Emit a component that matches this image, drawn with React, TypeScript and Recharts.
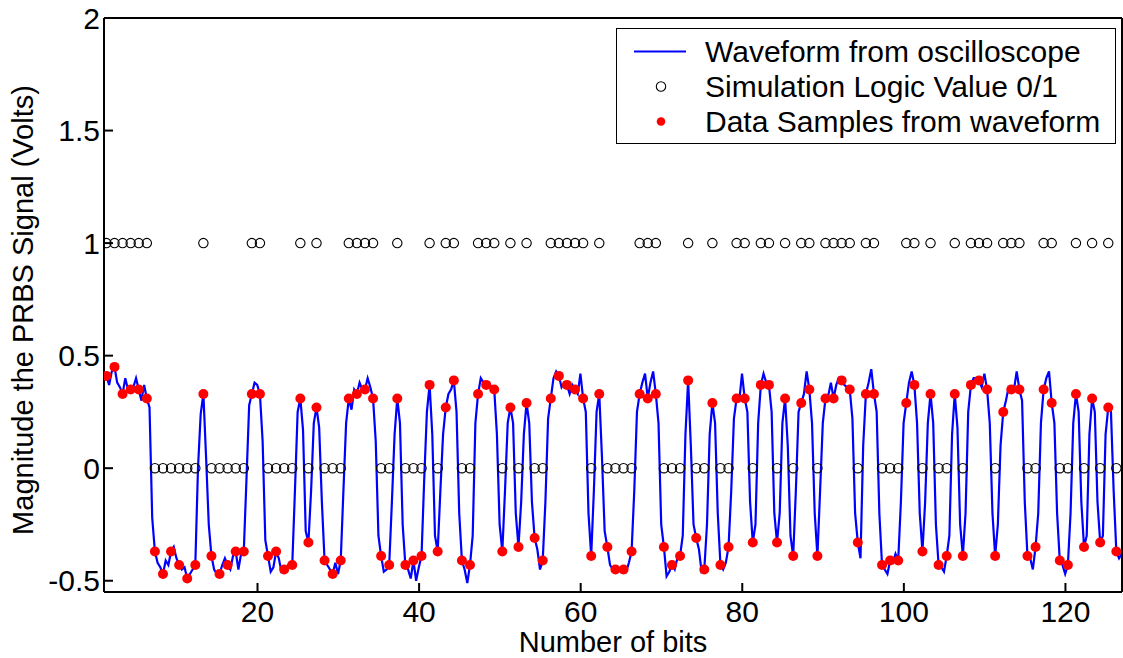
import { ComposedChart, Line, Scatter, XAxis, YAxis, Legend } from "recharts";

// logic level of each PRBS bit (bit 1 .. 126)
const logicBits = [
  1, 1, 1, 1, 1, 1, 0, 0, 0, 0, 0, 0, 1, 0, 0, 0, 0, 0, 1, 1,
  0, 0, 0, 0, 1, 0, 1, 0, 0, 0, 1, 1, 1, 1, 0, 0, 1, 0, 0, 0,
  1, 0, 1, 1, 0, 0, 1, 1, 1, 0, 1, 0, 1, 0, 0, 1, 1, 1, 1, 1,
  0, 1, 0, 0, 0, 0, 1, 1, 1, 0, 0, 0, 1, 0, 0, 1, 0, 0, 1, 1,
  0, 1, 1, 0, 1, 0, 1, 1, 0, 1, 1, 1, 1, 0, 1, 1, 0, 0, 0, 1,
  1, 0, 1, 0, 0, 1, 0, 1, 1, 1, 0, 1, 1, 1, 0, 0, 1, 1, 0, 0,
  1, 0, 1, 0, 1, 0,
];

// scope value taken at the sampling instant of each bit (red dots)
const sampleVolts = [
  0.41, 0.45, 0.33, 0.35, 0.35, 0.31, -0.37, -0.47, -0.37, -0.43,
  -0.49, -0.43, 0.33, -0.39, -0.47, -0.43, -0.37, -0.37, 0.33, 0.33,
  -0.39, -0.37, -0.45, -0.43, 0.31, -0.33, 0.27, -0.41, -0.47, -0.41,
  0.31, 0.33, 0.35, 0.31, -0.39, -0.43, 0.31, -0.43, -0.41, -0.39,
  0.37, -0.37, 0.27, 0.39, -0.41, -0.43, 0.33, 0.37, 0.35, -0.37,
  0.27, -0.35, 0.29, -0.31, -0.41, 0.31, 0.41, 0.37, 0.35, 0.31,
  -0.39, 0.33, -0.35, -0.45, -0.45, -0.37, 0.33, 0.31, 0.33, -0.35,
  -0.43, -0.39, 0.39, -0.31, -0.45, 0.29, -0.43, -0.35, 0.31, 0.31,
  -0.33, 0.37, 0.37, -0.33, 0.31, -0.39, 0.29, 0.35, -0.39, 0.31,
  0.31, 0.39, 0.35, -0.33, 0.33, 0.33, -0.43, -0.41, -0.41, 0.29,
  0.37, -0.37, 0.33, -0.43, -0.39, 0.33, -0.39, 0.37, 0.39, 0.35,
  -0.39, 0.25, 0.35, 0.35, -0.39, -0.35, 0.35, 0.29, -0.41, -0.43,
  0.33, -0.35, 0.31, -0.33, 0.27, -0.37,
];

// scope trace one third of a bit after each sample
const traceMidVolts = [
  0.37, 0.38, 0.4, 0.36, 0.3, 0.27, -0.42, -0.41, -0.35, -0.45,
  -0.47, 0.0, 0.05, -0.45, -0.43, -0.45, -0.45, -0.05, 0.38, 0.12,
  -0.46, -0.4, -0.44, -0.1, 0.17, -0.1, 0.18, -0.43, -0.42, -0.1,
  0.26, 0.38, 0.4, 0.12, -0.46, -0.15, 0.2, -0.45, -0.5, -0.05,
  0.15, -0.1, 0.33, 0.25, -0.45, -0.3, 0.4, 0.38, 0.15, -0.1,
  0.2, -0.15, 0.2, -0.36, -0.15, 0.4, 0.36, 0.33, 0.33, 0.25,
  -0.1, 0.05, -0.43, -0.44, -0.46, -0.1, 0.38, 0.38, 0.2, -0.48,
  -0.45, -0.3, 0.1, -0.36, -0.25, 0.2, -0.45, -0.1, 0.3, 0.25,
  -0.25, 0.42, 0.25, -0.2, 0.1, -0.1, 0.33, 0.2, -0.1, 0.32,
  0.37, 0.37, 0.22, -0.4, 0.38, 0.25, -0.45, -0.42, -0.15, 0.38,
  0.2, -0.15, 0.2, -0.44, -0.3, 0.18, -0.2, 0.4, 0.36, 0.2,
  -0.25, 0.3, 0.35, 0.3, -0.4, -0.2, 0.4, 0.2, -0.43, -0.2,
  0.25, -0.3, 0.25, -0.3, 0.25, -0.4,
];

// scope trace two thirds of a bit after each sample
const traceLateVolts = [
  0.43, 0.36, 0.35, 0.4, 0.37, -0.22, -0.44, -0.43, -0.4, -0.44,
  -0.45, 0.24, -0.25, -0.47, -0.4, -0.39, -0.38, 0.28, 0.37, -0.32,
  -0.44, -0.46, -0.42, 0.25, -0.28, 0.2, -0.15, -0.45, -0.47, 0.2,
  0.35, 0.35, 0.36, -0.3, -0.45, 0.15, -0.25, -0.49, -0.44, 0.25,
  -0.3, 0.15, 0.35, -0.2, -0.51, 0.2, 0.38, 0.36, -0.25, 0.2,
  -0.2, 0.15, -0.15, -0.45, 0.22, 0.43, 0.38, 0.37, 0.42, -0.2,
  0.25, -0.28, -0.45, -0.46, -0.42, 0.25, 0.42, 0.43, -0.25, -0.46,
  -0.4, 0.15, -0.25, -0.46, 0.15, -0.2, -0.42, 0.22, 0.42, -0.15,
  0.2, 0.38, -0.2, 0.2, -0.3, 0.25, 0.43, -0.2, 0.2, 0.38,
  0.4, 0.36, -0.2, 0.1, 0.44, -0.2, -0.47, -0.38, 0.2, 0.43,
  -0.2, 0.2, -0.25, -0.46, 0.15, -0.25, 0.25, 0.4, 0.42, -0.2,
  0.1, 0.36, 0.43, -0.15, -0.45, 0.2, 0.43, -0.2, -0.47, 0.2,
  -0.15, 0.15, -0.15, 0.15, -0.1, -0.38,
];

const xTicks = [20, 40, 60, 80, 100, 120];
const yTicks = [-0.5, 0, 0.5, 1, 1.5, 2];

const legendLabels = [
  "Waveform from oscilloscope",
  "Simulation Logic Value 0/1",
  "Data Samples from waveform",
];

// sampling instant sits a little after the bit index
const SAMPLE_PHASE = 0.3;

const logicPoints = logicBits.map((v, i) => ({ bit: i + 1 + SAMPLE_PHASE, value: v }));
const samplePoints = sampleVolts.map((v, i) => ({ bit: i + 1 + SAMPLE_PHASE, value: v }));
const tracePoints = sampleVolts.flatMap((v, i) => [
  { bit: i + 1 + SAMPLE_PHASE, value: v },
  { bit: i + 1 + SAMPLE_PHASE + 1 / 3, value: traceMidVolts[i] },
  { bit: i + 1 + SAMPLE_PHASE + 2 / 3, value: traceLateVolts[i] },
]);

const FONT = "'Liberation Sans', Arial, Helvetica, sans-serif";
const tickStyle = { fill: "#000", fontSize: 30, fontFamily: FONT };
const axisLine = { stroke: "#000", strokeWidth: 2 };

const OpenCircle = (props: any) => (
  <circle cx={props.cx} cy={props.cy} r={4.7} fill="none" stroke="#000" strokeWidth={1.1} />
);

const RedDot = (props: any) => (
  <circle cx={props.cx} cy={props.cy} r={5} fill="#ff0000" />
);

const YTitle = (props: any) => {
  const { viewBox } = props;
  const x = 33;
  const y = viewBox.y + viewBox.height / 2 + 5;
  return (
    <text
      x={x}
      y={y}
      transform={`rotate(-90 ${x} ${y})`}
      textAnchor="middle"
      fill="#000"
      fontSize={29}
      fontFamily={FONT}
    >
      Magnitude the PRBS Signal (Volts)
    </text>
  );
};

const XTitle = (props: any) => {
  const { viewBox } = props;
  return (
    <text
      x={viewBox.x + viewBox.width / 2}
      y={652}
      textAnchor="middle"
      fill="#000"
      fontSize={29}
      fontFamily={FONT}
    >
      Number of bits
    </text>
  );
};

function LegendBox() {
  return (
    <div
      style={{
        width: 500,
        height: 116,
        boxSizing: "border-box",
        border: "1px solid #000",
        background: "#fff",
        fontFamily: FONT,
        fontSize: 30,
        color: "#000",
        paddingTop: 5,
      }}
    >
      {legendLabels.map((label, i) => (
        <div key={label} style={{ display: "flex", alignItems: "center", height: 35 }}>
          <svg width={88} height={35} style={{ flex: "none" }}>
            {i === 0 && <line x1={17} x2={69} y1={17.5} y2={17.5} stroke="#0000ff" strokeWidth={2} />}
            {i === 1 && <circle cx={44} cy={17.5} r={4.7} fill="none" stroke="#000" strokeWidth={1.1} />}
            {i === 2 && <circle cx={44} cy={17.5} r={4.3} fill="#ff0000" />}
          </svg>
          <span style={{ whiteSpace: "nowrap", lineHeight: "35px" }}>{label}</span>
        </div>
      ))}
    </div>
  );
}

export default function App() {
  return (
    <div style={{ position: "absolute", left: 0, top: 0, background: "#fff" }}>
      <ComposedChart width={1123} height={658} margin={{ top: 17, right: 0, bottom: 0, left: 103 }}>
        <XAxis
          type="number"
          dataKey="bit"
          domain={[1, 127]}
          ticks={xTicks}
          allowDataOverflow
          height={66}
          tickSize={-9}
          tickMargin={18}
          tick={tickStyle}
          axisLine={axisLine}
          tickLine={axisLine}
          label={<XTitle />}
        />
        <XAxis
          xAxisId="top"
          orientation="top"
          type="number"
          domain={[1, 127]}
          ticks={xTicks}
          height={1}
          tickSize={-9}
          tick={false}
          axisLine={axisLine}
          tickLine={axisLine}
        />
        <YAxis
          type="number"
          dataKey="value"
          domain={[-0.55, 2]}
          ticks={yTicks}
          allowDataOverflow
          width={1}
          tickSize={-9}
          tickMargin={13}
          tick={tickStyle}
          axisLine={axisLine}
          tickLine={axisLine}
          label={<YTitle />}
        />
        <YAxis
          yAxisId="right"
          orientation="right"
          type="number"
          domain={[-0.55, 2]}
          ticks={yTicks}
          width={1}
          tickSize={-9}
          tick={false}
          axisLine={axisLine}
          tickLine={axisLine}
        />
        <Legend
          layout="vertical"
          align="center"
          verticalAlign="middle"
          content={() => <LegendBox />}
          wrapperStyle={{ left: 616, top: 28, width: 500, height: 116 }}
        />
        <Line
          data={tracePoints}
          dataKey="value"
          type="linear"
          stroke="#0000ff"
          strokeWidth={2.2}
          dot={false}
          activeDot={false}
          isAnimationActive={false}
        />
        <Scatter data={logicPoints} dataKey="value" shape={OpenCircle} isAnimationActive={false} />
        <Scatter data={samplePoints} dataKey="value" shape={RedDot} isAnimationActive={false} />
      </ComposedChart>
    </div>
  );
}
